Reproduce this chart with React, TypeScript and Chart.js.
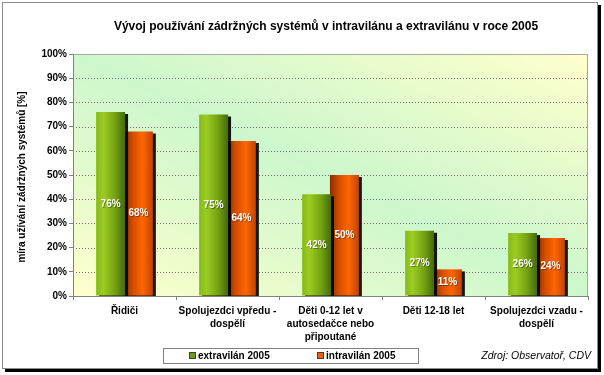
import React, { useEffect, useRef } from "react";
import { Chart, registerables } from "chart.js";

Chart.register(...registerables);

const categories: string[][] = [
  ["Řidiči"],
  ["Spolujezdci vpředu -", "dospělí"],
  ["Děti 0-12 let v", "autosedačce nebo", "připoutané"],
  ["Děti 12-18 let"],
  ["Spolujezdci vzadu -", "dospělí"],
];
const extravilan = [76, 75, 42, 27, 26];
const intravilan = [68, 64, 50, 11, 24];
const seriesNames = ["extravilán 2005", "intravilán 2005"];
const yMin = 0;
const yMax = 100;
const yStep = 10;
const titleText = "Vývoj používání zádržných systémů v intravilánu a extravilánu v roce 2005";
const yTitleText = "míra užívání zádržných systémů [%]";
const sourceText = "Zdroj: Observatoř, CDV";

const FONT = "'Liberation Sans', Arial, sans-serif";
const CAT_PCT = 0.54;
const BAR_PCT = 1.04;

function barFill(c: any, ds: number) {
  const chart = c.chart;
  const xs = chart.scales && chart.scales.x;
  const solid = ds === 0 ? "#7aab14" : "#f06000";
  if (!xs || !chart.chartArea || c.dataIndex === undefined) return solid;
  const cw = (xs.right - xs.left) / categories.length;
  const slot = cw * CAT_PCT / 2;
  const bw = slot * BAR_PCT;
  const center = xs.getPixelForValue(c.dataIndex) + (ds === 0 ? -slot / 2 : slot / 2);
  const l = center - bw / 2;
  const r = center + bw / 2;
  const g = chart.ctx.createLinearGradient(l, 0, r, 0);
  if (ds === 0) {
    g.addColorStop(0, "#86ba18");
    g.addColorStop(0.25, "#9ccc22");
    g.addColorStop(0.65, "#74a214");
    g.addColorStop(1, "#456a08");
  } else {
    g.addColorStop(0, "#8c2c00");
    g.addColorStop(0.3, "#d24c00");
    g.addColorStop(0.65, "#ff6600");
    g.addColorStop(1, "#c04400");
  }
  return g;
}

const decorPlugin = {
  id: "decor",
  beforeDraw(chart: any) {
    const ctx = chart.ctx;
    const W = chart.width;
    const H = chart.height;
    ctx.save();
    ctx.fillStyle = "#ffffff";
    ctx.fillRect(0, 0, W, H);
    // frame shadow
    ctx.fillStyle = "#000000";
    ctx.fillRect(598, 5, 3, 367);
    ctx.fillRect(5, 369, 596, 3);
    ctx.strokeStyle = "#8a8a8a";
    ctx.lineWidth = 1;
    ctx.strokeRect(2.5, 2.5, 595, 366);

    const a = chart.chartArea;
    const cx = (a.left + a.right) / 2;
    const cy = (a.top + a.bottom) / 2;
    const w = a.right - a.left;
    const h = a.bottom - a.top;
    let nx = h, ny = -w;
    const len = Math.sqrt(nx * nx + ny * ny);
    nx /= len; ny /= len;
    const proj = Math.abs((-w / 2) * nx + (h / 2) * ny);
    const g = ctx.createLinearGradient(cx - nx * proj, cy - ny * proj, cx + nx * proj, cy + ny * proj);
    g.addColorStop(0, "#ffffcc");
    g.addColorStop(0.5, "#ccf7cc");
    g.addColorStop(1, "#ffffcc");
    ctx.fillStyle = g;
    ctx.fillRect(a.left, a.top, w, h);

    const ys = chart.scales.y;
    ctx.strokeStyle = "#707070";
    ctx.setLineDash([1, 2]);
    for (let v = yMin + yStep; v < yMax; v += yStep) {
      const y = Math.round(ys.getPixelForValue(v)) + 0.5;
      ctx.beginPath();
      ctx.moveTo(a.left, y);
      ctx.lineTo(a.right, y);
      ctx.stroke();
    }
    ctx.setLineDash([]);
    ctx.strokeStyle = "#a8a8a8";
    ctx.strokeRect(Math.round(a.left) + 0.5, Math.round(a.top) + 0.5, Math.round(w) - 1, Math.round(h));
    ctx.restore();
  },
  beforeDatasetsDraw(chart: any) {
    const ctx = chart.ctx;
    ctx.save();
    ctx.shadowColor = "rgba(0,0,0,0.9)";
    ctx.shadowOffsetX = 3;
    ctx.shadowOffsetY = 2;
    ctx.shadowBlur = 0;
  },
  afterDatasetsDraw(chart: any) {
    const ctx = chart.ctx;
    ctx.restore();
    ctx.save();
    ctx.font = `bold 10px ${FONT}`;
    ctx.textAlign = "center";
    ctx.textBaseline = "middle";
    chart.data.datasets.forEach((ds: any, di: number) => {
      const meta = chart.getDatasetMeta(di);
      meta.data.forEach((el: any, i: number) => {
        const txt = ds.data[i] + "%";
        const y = (el.y + el.base) / 2;
        ctx.fillStyle = "rgba(0,0,0,0.35)";
        ctx.fillText(txt, el.x + 1, y + 1);
        ctx.fillStyle = "#ffffff";
        ctx.fillText(txt, el.x, y);
      });
    });
    ctx.restore();
  },
  afterDraw(chart: any) {
    const ctx = chart.ctx;
    ctx.save();
    ctx.fillStyle = "#000000";
    ctx.font = `bold 12px ${FONT}`;
    ctx.textAlign = "center";
    ctx.textBaseline = "middle";
    ctx.fillText(titleText, 326, 27);

    ctx.save();
    ctx.translate(22, 177);
    ctx.rotate(-Math.PI / 2);
    ctx.font = `bold 10px ${FONT}`;
    ctx.fillText(yTitleText, 0, 0);
    ctx.restore();

    // legend
    ctx.fillStyle = "#ffffff";
    ctx.fillRect(163, 348, 255, 15);
    ctx.strokeStyle = "#808080";
    ctx.lineWidth = 1;
    ctx.strokeRect(163.5, 348.5, 255, 15);
    const items = [
      { x: 189, color: "#6e9c10", text: seriesNames[0] },
      { x: 317, color: "#f06000", text: seriesNames[1] },
    ];
    ctx.font = `bold 10px ${FONT}`;
    ctx.textAlign = "left";
    items.forEach((it) => {
      ctx.fillStyle = it.color;
      ctx.fillRect(it.x, 352, 7, 7);
      ctx.strokeStyle = "#404040";
      ctx.strokeRect(it.x + 0.5, 352.5, 6, 6);
      ctx.fillStyle = "#000000";
      ctx.fillText(it.text, it.x + 9, 356);
    });

    ctx.font = `italic 10.5px ${FONT}`;
    ctx.textAlign = "right";
    ctx.fillText(sourceText, 591, 356);
    ctx.restore();
  },
};

export default function App() {
  const ref = useRef<HTMLCanvasElement | null>(null);
  useEffect(() => {
    document.body.style.margin = "0";
    const canvas = ref.current;
    if (!canvas) return;
    const chart = new Chart(canvas, {
      type: "bar",
      data: {
        labels: categories,
        datasets: [
          {
            label: seriesNames[0],
            data: extravilan,
            backgroundColor: (c: any) => barFill(c, 0),
            borderWidth: 0,
            categoryPercentage: CAT_PCT,
            barPercentage: BAR_PCT,
          },
          {
            label: seriesNames[1],
            data: intravilan,
            backgroundColor: (c: any) => barFill(c, 1),
            borderWidth: 0,
            categoryPercentage: CAT_PCT,
            barPercentage: BAR_PCT,
          },
        ],
      },
      options: {
        responsive: false,
        animation: false,
        devicePixelRatio: 1,
        layout: { padding: { left: 40, right: 16, top: 54, bottom: 29 } },
        plugins: {
          legend: { display: false },
          title: { display: false },
          tooltip: { enabled: false },
        },
        scales: {
          x: {
            offset: true,
            grid: {
              offset: true,
              drawOnChartArea: false,
              drawTicks: true,
              tickLength: 4,
              tickColor: "#808080",
            },
            border: { display: true, color: "#808080" },
            ticks: {
              autoSkip: false,
              maxRotation: 0,
              minRotation: 0,
              padding: 5,
              color: "#000000",
              font: { family: FONT, size: 10, weight: "bold", lineHeight: 1.3 },
            },
            afterFit: (s: any) => {
              s.height = 50;
            },
          },
          y: {
            min: yMin,
            max: yMax,
            ticks: {
              stepSize: yStep,
              padding: 2,
              color: "#000000",
              font: { family: FONT, size: 10, weight: "bold" },
              callback: (v: any) => v + "%",
            },
            grid: {
              drawOnChartArea: false,
              drawTicks: true,
              tickLength: 4,
              tickColor: "#808080",
            },
            border: { display: true, color: "#808080" },
            afterFit: (s: any) => {
              s.width = 33;
            },
          },
        },
      },
      plugins: [decorPlugin],
    } as any);
    return () => chart.destroy();
  }, []);
  return (
    <div style={{ position: "absolute", left: 0, top: 0 }}>
      <canvas ref={ref} width={604} height={375} style={{ display: "block" }} />
    </div>
  );
}
